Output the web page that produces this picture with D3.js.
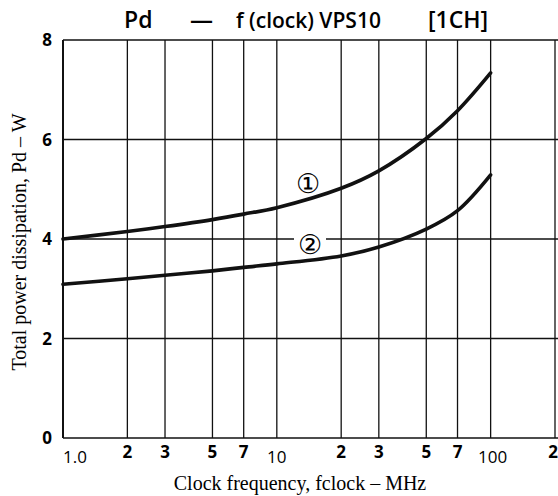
<!DOCTYPE html>
<html><head><meta charset="utf-8">
<script src="https://cdn.jsdelivr.net/npm/d3@7"></script>
<style>body{margin:0;background:#fff}svg{display:block}</style>
</head><body>
<svg id="c" width="558" height="496"></svg>
<script>
const freq = [1, 2, 3, 5, 7, 10, 20, 30, 50, 70, 100];
const curve1 = [4.0, 4.15, 4.25, 4.39, 4.50, 4.63, 5.02, 5.37, 6.02, 6.58, 7.34];
const curve2 = [3.09, 3.2, 3.27, 3.36, 3.43, 3.5, 3.66, 3.84, 4.2, 4.57, 5.29];
const xGrid = [1, 2, 3, 5, 7, 10, 20, 30, 50, 70, 100, 200];
const xTickLabels = ["1.0", "2", "3", "5", "7", "10", "2", "3", "5", "7", "100", "2"];
const yTicks = [0, 2, 4, 6, 8];
const yTickLabels = ["0", "2", "4", "6", "8"];
const titleParts = ["Pd", "\u2014", "f (clock) VPS10", "[1CH]"];
const xTitle = "Clock frequency, fclock \u2013 MHz";
const yTitle = "Total power dissipation, Pd \u2013 W";
const curveLabels = ["\u2460", "\u2461"];

const svg = d3.select("#c");
const x = d3.scaleLog().domain([1, 200]).range([63, 555]);
const y = d3.scaleLinear().domain([0, 8]).range([438, 40]);

// grid
svg.append("g").selectAll("line").data(xGrid).join("line")
  .attr("x1", d => x(d)).attr("x2", d => x(d))
  .attr("y1", y(8)).attr("y2", y(0))
  .attr("stroke", "#111").attr("stroke-width", 1.3);
svg.append("g").selectAll("line").data(yTicks).join("line")
  .attr("x1", x(1)).attr("x2", 558)
  .attr("y1", d => y(d)).attr("y2", d => y(d))
  .attr("stroke", "#111").attr("stroke-width", d => (d === 0 || d === 8) ? 1.6 : 1.3);
svg.append("line").attr("x1", x(1)).attr("x2", x(1)).attr("y1", y(8)).attr("y2", y(0))
  .attr("stroke", "#111").attr("stroke-width", 2);

// tick labels
svg.append("g").selectAll("text").data(yTicks).join("text")
  .attr("x", 52).attr("y", d => y(d) + 6)
  .attr("text-anchor", "end")
  .attr("font-family", "'Open Sans', sans-serif").attr("font-weight", "bold").attr("font-size", 17)
  .text((d, i) => yTickLabels[i]);
svg.append("g").selectAll("text").data(xGrid).join("text")
  .attr("x", (d, i) => i === 0 ? x(d) + 12 : (i === 10 ? x(d) + 2 : (i === 11 ? 558 : x(d))))
  .attr("y", (d, i) => (i === 0 || i === 5 || i === 10) ? 463 : 458)
  .attr("text-anchor", (d, i) => i === 11 ? "end" : "middle")
  .attr("font-family", "'Open Sans', sans-serif").attr("font-weight", (d, i) => (i === 0 || i === 5 || i === 10) ? "normal" : "bold")
  .attr("font-size", 17)
  .text((d, i) => xTickLabels[i]);

// curves
const line = d3.line().x(d => x(d[0])).y(d => y(d[1])).curve(d3.curveCatmullRom.alpha(0.5));
[curve1, curve2].forEach(vals => {
  svg.append("path").datum(freq.map((f, i) => [f, vals[i]]))
    .attr("d", line).attr("fill", "none").attr("stroke", "#111")
    .attr("stroke-width", 3.6).attr("stroke-linecap", "round");
});

// curve labels
svg.append("text").attr("x", 308).attr("y", 193).attr("text-anchor", "middle")
  .attr("font-family", "'DejaVu Serif', serif").attr("font-size", 27).text(curveLabels[0]);
svg.append("rect").attr("x", 294).attr("y", 234).attr("width", 32).attr("height", 22).attr("fill", "#fff");
svg.append("text").attr("x", 310).attr("y", 254).attr("text-anchor", "middle")
  .attr("font-family", "'DejaVu Serif', serif").attr("font-size", 27).text(curveLabels[1]);

// titles
const titleX = [124, 190, 236, 428];
svg.append("g").selectAll("text").data(titleParts).join("text")
  .attr("x", (d, i) => titleX[i]).attr("y", 28)
  .attr("font-family", "'Open Sans', sans-serif").attr("font-weight", "600")
  .attr("font-size", (d, i) => i === 2 ? 21 : 23)
  .text(d => d);
svg.append("text").attr("x", 300).attr("y", 490).attr("text-anchor", "middle")
  .attr("font-family", "'Liberation Serif', serif").attr("font-size", 20)
  .text(xTitle);
svg.append("text").attr("transform", "translate(26,242) rotate(-90)").attr("text-anchor", "middle")
  .attr("font-family", "'Liberation Serif', serif").attr("font-size", 20)
  .text(yTitle);
</script>
</body></html>
